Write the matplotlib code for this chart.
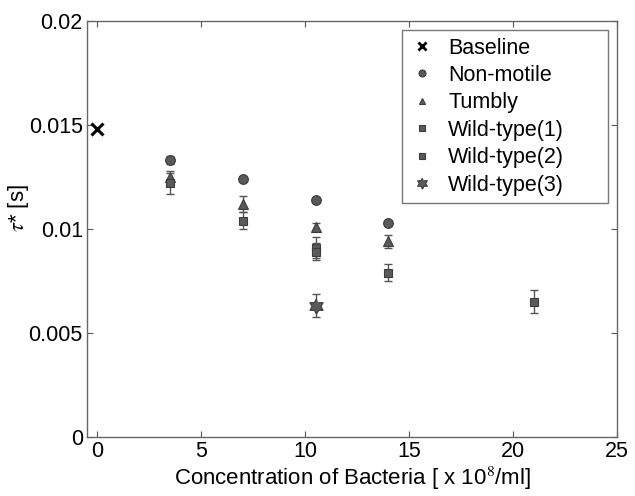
import numpy as np
import matplotlib.pyplot as plt
from matplotlib.lines import Line2D

plt.rcParams['font.family'] = ['Liberation Sans', 'DejaVu Sans']
plt.rcParams['mathtext.fontset'] = 'stix'

# data
base_x = [0.0]
base_y = [0.0148]

nonmotile_x = [3.5, 7.0, 10.5, 14.0]
nonmotile_y = [0.0133, 0.0124, 0.0114, 0.0103]
nonmotile_err = [0.0002, 0.0001, 0.0001, 0.0001]

tumbly_x = [3.5, 7.0, 10.5, 14.0]
tumbly_y = [0.0125, 0.0112, 0.0101, 0.0094]
tumbly_err = [0.0003, 0.0004, 0.0002, 0.0003]

wt1_x = [3.5, 7.0, 10.5, 14.0]
wt1_y = [0.0122, 0.0104, 0.0091, 0.0079]
wt1_err = [0.0005, 0.0004, 0.0005, 0.0004]

wt2_x = [10.5, 21.0]
wt2_y = [0.0089, 0.0065]
wt2_err = [0.0004, 0.00055]

wt3_x = [10.5]
wt3_y = [0.0063]
wt3_err = [0.00055]

MARKER_FC = '#5a5a5a'
MARKER_EC = '#3c3c3c'
ERR_C = '#555555'

# six-pointed star (MATLAB 'hexagram')
ang = np.pi / 2 + np.arange(12) * np.pi / 6
rad = np.where(np.arange(12) % 2 == 0, 1.0, 0.58)
HEXAGRAM = list(zip(rad * np.cos(ang), rad * np.sin(ang)))


def plot_series(ax, x, y, err, marker, ms):
    ax.errorbar(x, y, yerr=err, fmt='none', ecolor=ERR_C, elinewidth=1.0,
                capsize=3, capthick=1.0)
    ax.plot(x, y, ls='none', marker=marker, ms=ms, mfc=MARKER_FC, mec=MARKER_EC, mew=0.8)


fig = plt.figure(figsize=(6.35, 4.96), dpi=100)
ax = fig.add_axes([0.137, 0.119, 0.835, 0.839])

ax.plot(base_x, base_y, 'x', color='black', ms=8, mew=2.2)
plot_series(ax, nonmotile_x, nonmotile_y, nonmotile_err, 'o', 7)
plot_series(ax, tumbly_x, tumbly_y, tumbly_err, '^', 7)
plot_series(ax, wt1_x, wt1_y, wt1_err, 's', 6)
plot_series(ax, wt2_x, wt2_y, wt2_err, 's', 6)
plot_series(ax, wt3_x, wt3_y, wt3_err, HEXAGRAM, 11)

ax.set_xlim(-0.5, 25)
ax.set_ylim(0, 0.02)
ax.set_xticks([0, 5, 10, 15, 20, 25])
ax.set_yticks([0, 0.005, 0.01, 0.015, 0.02])
ax.set_yticklabels(['0', '0.005', '0.01', '0.015', '0.02'])
ax.tick_params(direction='in', top=True, right=True, labelsize=15.5,
               length=4, color='#555555', pad=3)
for sp in ax.spines.values():
    sp.set_color('#666666')
    sp.set_linewidth(1.0)

ax.set_xlabel('Concentration of Bacteria [ x 10$^8$/ml]', fontsize=16, labelpad=2)
ax.set_ylabel(r'$\tau$* [s]', fontsize=16)
ax.yaxis.set_label_coords(-0.105, 0.55)

handles = [
    Line2D([], [], ls='none', marker='x', color='black', ms=6, mew=2.0),
    Line2D([], [], ls='none', marker='o', ms=5, mfc=MARKER_FC, mec=MARKER_EC, mew=0.8),
    Line2D([], [], ls='none', marker='^', ms=5, mfc=MARKER_FC, mec=MARKER_EC, mew=0.8),
    Line2D([], [], ls='none', marker='s', ms=4.5, mfc=MARKER_FC, mec=MARKER_EC, mew=0.8),
    Line2D([], [], ls='none', marker='s', ms=4.5, mfc=MARKER_FC, mec=MARKER_EC, mew=0.8),
    Line2D([], [], ls='none', marker=HEXAGRAM, ms=8, mfc=MARKER_FC, mec=MARKER_EC, mew=0.8),
]
labels = ['Baseline', 'Non-motile', 'Tumbly', 'Wild-type(1)', 'Wild-type(2)', 'Wild-type(3)']
leg = ax.legend(handles, labels, loc='upper left', mode='expand',
                bbox_to_anchor=(0.594, 0.572, 0.389, 0.406),
                fontsize=15.5, frameon=True, fancybox=False, edgecolor='#555555',
                handlelength=1.2, handletextpad=0.6, labelspacing=0.3, borderpad=0.35,
                borderaxespad=0)
leg.get_frame().set_linewidth(1.0)

fig.savefig('out.png', dpi=100)
